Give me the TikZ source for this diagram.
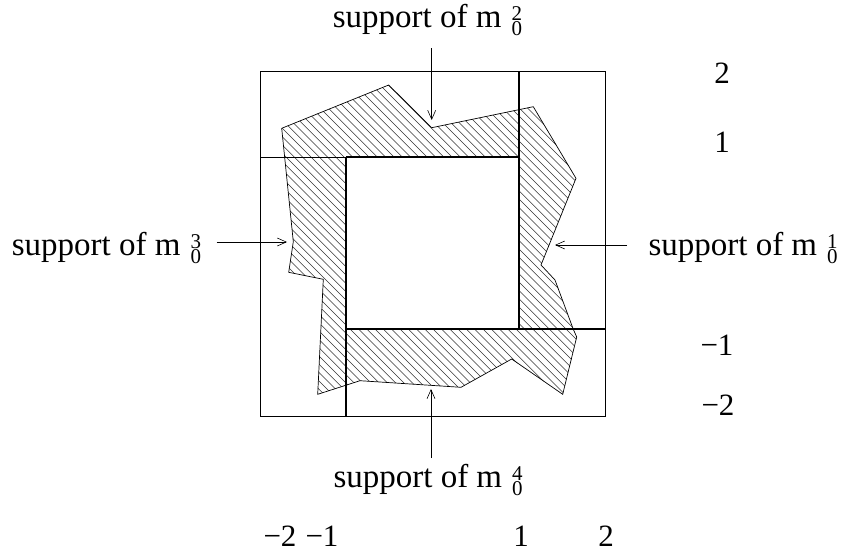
\documentclass[tikz,border=0pt]{standalone}
\usepackage{fontspec}
\setmainfont{Liberation Serif}
\usetikzlibrary{arrows.meta}
\newcommand\msupp[1]{support of m\kern10pt\rlap{\raisebox{7pt}{\fontsize{21}{21}\selectfont #1}}\raisebox{-8pt}{\fontsize{21}{21}\selectfont 0}}
\begin{document}
\begin{tikzpicture}[x=1pt,y=-1pt,
  lbl/.style={anchor=base west, inner sep=0pt, font=\fontsize{33}{33}\selectfont},
  num/.style={anchor=base, inner sep=0pt, font=\fontsize{31}{31}\selectfont},
  arr/.style={-{Straight Barb[length=9pt,width=8pt]}, line width=0.6pt},
  frame/.style={line width=0.7pt},
  gridline/.style={line width=1.3pt},
  thinline/.style={line width=0.8pt},
  jag/.style={line width=0.7pt},
  hatch/.style={line width=0.55pt, black!80}]
\useasboundingbox (0,0) rectangle (844,552);
% polygon vertices
\coordinate (P1) at (281.7,128.3);
\coordinate (P2) at (388.7,85);
\coordinate (P3) at (431.7,127.7);
\coordinate (P4) at (533.3,106.7);
\coordinate (P5) at (576,178.3);
\coordinate (P6) at (541,265);
\coordinate (P7) at (555,280);
\coordinate (P8) at (573.3,329.3);
\coordinate (P9) at (576.7,337);
\coordinate (P10) at (562.7,394.3);
\coordinate (P11) at (511.7,359);
\coordinate (P12) at (461,387.3);
\coordinate (P13) at (360,380.7);
\coordinate (P14) at (317.7,394.3);
\coordinate (P15) at (323.3,279.3);
\coordinate (P16) at (288.7,272.3);
\coordinate (P17) at (293.3,241.7);
% squares
\coordinate (O1) at (260,71);
\coordinate (O3) at (605,416);
\coordinate (I1) at (346,157);
\coordinate (I2) at (519,157);
\coordinate (I3) at (519,329);
\coordinate (I4) at (346,329);
\coordinate (L1) at (260,157);
\coordinate (L2) at (519,71);
\coordinate (L3) at (605,329);
\coordinate (L4) at (346,416);
% hatching
\begin{scope}
  \clip (P1) -- (P2) -- (P3) -- (P4) -- (P5) -- (P6) -- (P7) -- (P8) -- (P9) -- (P10) -- (P11) -- (P12) -- (P13) -- (P14) -- (P15) -- (P16) -- (P17) -- cycle;
  \foreach \c in {-120,-111.7,...,500} \draw[hatch] (\c,0) -- ++(560,560);
\end{scope}
\fill[white] (I1) rectangle (I3);
\draw[jag] (P1) -- (P2) -- (P3) -- (P4) -- (P5) -- (P6) -- (P7) -- (P8) -- (P9) -- (P10) -- (P11) -- (P12) -- (P13) -- (P14) -- (P15) -- (P16) -- (P17) -- cycle;
% frame and division lines
\draw[frame] (O1) rectangle (O3);
\draw[thinline] (L1) -- (I1);
\draw[gridline] (I1) -- (I2);
\draw[gridline] (L2) -- (I3);
\draw[gridline] (I4) -- (L3);
\draw[gridline] (I1) -- (L4);
% labels
\node[lbl] (s2) at (332.7,27) {\msupp{2}};
\node[lbl] (s3) at (11.7,255) {\msupp{3}};
\node[lbl] (s1) at (648.3,255) {\msupp{1}};
\node[lbl] (s4) at (333.3,487) {\msupp{4}};
% arrows
\coordinate (a2s) at (431.7,48);
\coordinate (a2e) at (431.7,120);
\coordinate (a3s) at (216.7,242);
\coordinate (a3e) at (287,242);
\coordinate (a1s) at (627,245);
\coordinate (a1e) at (555,245);
\coordinate (a4s) at (431,458);
\coordinate (a4e) at (431,389);
\draw[arr] (a2s) -- (a2e);
\draw[arr] (a3s) -- (a3e);
\draw[arr] (a1s) -- (a1e);
\draw[arr] (a4s) -- (a4e);
% numbers
\node[num] (ry2) at (722,83) {2};
\node[num] (ry1) at (722,152) {1};
\node[num] (rym1) at (717,355) {−1};
\node[num] (rym2) at (718,415) {−2};
\node[num] (bxm2) at (280,546) {−2};
\node[num] (bxm1) at (322,546) {−1};
\node[num] (bx1) at (521,546) {1};
\node[num] (bx2) at (606,546) {2};
\end{tikzpicture}
\end{document}
